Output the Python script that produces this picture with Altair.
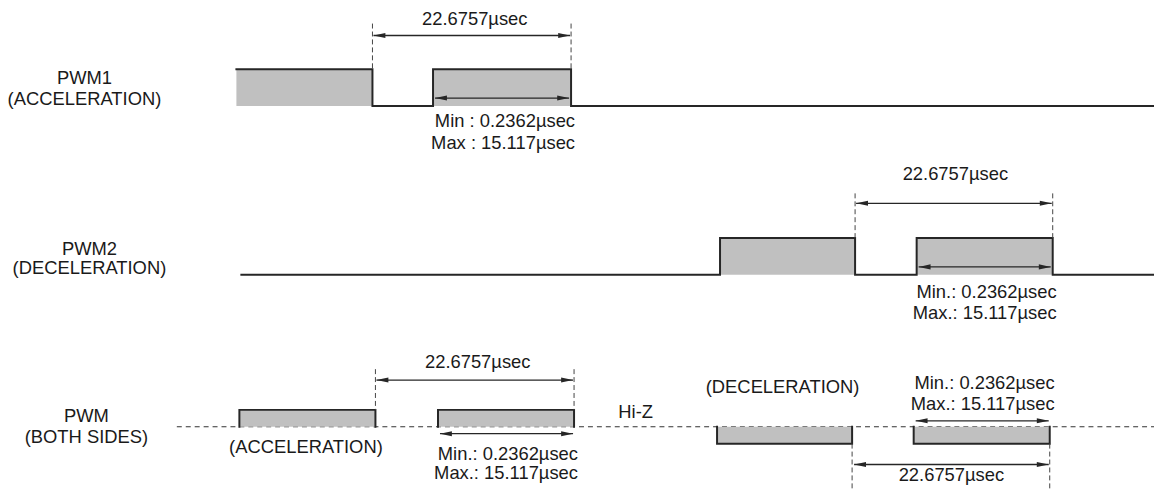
import altair as alt
import pandas as pd

# ---------------- diagram values (page pixel coordinates) ----------------
# Signal traces: each trace is a polyline
trace_names = ["pwm1", "pwm2", "both_acc1", "both_acc2", "both_dec1", "both_dec2"]
trace_x = [
    [238, 375, 375, 436, 436, 575, 575, 1162],
    [243, 725, 725, 861, 861, 923, 923, 1060, 1060, 1162],
    [241, 241, 378, 378],
    [441, 441, 578, 578],
    [722, 722, 858, 858],
    [920, 920, 1057, 1057],
]
trace_y = [
    [68, 68, 105, 105, 68, 68, 105, 105],
    [275, 275, 238, 238, 275, 275, 238, 238, 275, 275],
    [428, 411, 411, 428],
    [428, 411, 411, 428],
    [428, 445, 445, 428],
    [428, 445, 445, 428],
]

# Gray pulse fills
pulse_x1 = [238, 436, 725, 923, 241, 441, 722, 920]
pulse_x2 = [375, 575, 861, 1060, 378, 578, 858, 1057]
pulse_y1 = [68, 68, 238, 238, 411, 411, 428, 428]
pulse_y2 = [105, 105, 275, 275, 428, 428, 445, 445]

# Hi-Z level (dashed)
hiz_x = [178, 1162]
hiz_y = [428, 428]

# Dashed period guide lines
guide_x = [375, 575, 861, 1060, 378, 578, 858, 1057]
guide_y1 = [22, 22, 193, 193, 370, 370, 445, 445]
guide_y2 = [68, 68, 238, 238, 411, 411, 490, 490]

# Dimension arrows (double headed)
arrow_x1 = [376, 438, 862, 925, 379, 443, 922, 860]
arrow_x2 = [574, 573, 1059, 1058, 577, 577, 1056, 1056]
arrow_y = [34, 97, 203, 267, 381, 435, 422, 466]

# Centered texts
ctext = ["PWM1", "(ACCELERATION)", "PWM2", "(DECELERATION)", "PWM", "(BOTH SIDES)",
         "22.6757\u00b5sec", "22.6757\u00b5sec", "22.6757\u00b5sec", "22.6757\u00b5sec",
         "(ACCELERATION)", "(DECELERATION)", "Hi-Z"]
ctext_x = [85, 85, 90, 90, 87, 87, 478, 962, 481, 958, 308, 788, 640]
ctext_y = [83, 104, 255, 274, 423, 444, 23, 180, 369, 483, 454, 394, 419]

# Right-aligned texts
rtext = ["Min : 0.2362\u00b5sec", "Max : 15.117\u00b5sec",
         "Min.: 0.2362\u00b5sec", "Max.: 15.117\u00b5sec",
         "Min.: 0.2362\u00b5sec", "Max.: 15.117\u00b5sec",
         "Min.: 0.2362\u00b5sec", "Max.: 15.117\u00b5sec"]
rtext_x = [579, 579, 1064, 1064, 582, 582, 1062, 1062]
rtext_y = [126, 148, 298, 319, 461, 481, 390, 411]

# ---------------- tables ----------------
rows = []
for name, xs, ys in zip(trace_names, trace_x, trace_y):
    for i, (a, b) in enumerate(zip(xs, ys)):
        rows.append({"trace": name, "ord": i, "x": a, "y": b})
traces = pd.DataFrame(rows)
pulses = pd.DataFrame({"x": pulse_x1, "x2": pulse_x2, "y": pulse_y1, "y2": pulse_y2})
hiz = pd.DataFrame({"x": hiz_x, "y": hiz_y, "ord": [0, 1]})
guides = pd.DataFrame({"x": guide_x, "y": guide_y1, "y2": guide_y2})
arrows = pd.DataFrame({"x": arrow_x1, "x2": arrow_x2, "y": arrow_y})
heads = pd.DataFrame({
    "x": arrow_x1 + arrow_x2,
    "y": arrow_y + arrow_y,
    "ang": [180] * len(arrow_x1) + [0] * len(arrow_x2),
})
ctexts = pd.DataFrame({"t": ctext, "x": ctext_x, "y": ctext_y})
rtexts = pd.DataFrame({"t": rtext, "x": rtext_x, "y": rtext_y})

W, H = 1154, 482
xs = alt.Scale(domain=[8, 8 + W], nice=False, zero=False)
ys = alt.Scale(domain=[8 + H, 8], nice=False, zero=False)
X = lambda f="x": alt.X(f"{f}:Q", scale=xs, axis=None)
Y = lambda f="y": alt.Y(f"{f}:Q", scale=ys, axis=None)

INK = "#262626"
FONT = "Liberation Sans"
FS = 18.5

fill = alt.Chart(pulses).mark_rect(color="#c0c0c0", opacity=1).encode(
    x=X(), x2="x2:Q", y=Y(), y2="y2:Q")

hiz_line = alt.Chart(hiz).mark_line(color="#333333", strokeWidth=1.2, strokeDash=[5, 4]).encode(
    x=X(), y=Y(), order="ord:Q")

wave = alt.Chart(traces).mark_line(color=INK, strokeWidth=2, strokeJoin="miter", strokeCap="square").encode(
    x=X(), y=Y(), detail="trace:N", order="ord:Q")

guide = alt.Chart(guides).mark_rule(color="#444444", strokeWidth=1, strokeDash=[5, 3]).encode(
    x=X(), y=Y(), y2="y2:Q")

shaft = alt.Chart(arrows).mark_rule(color=INK, strokeWidth=1.3).encode(
    x=X(), x2="x2:Q", y=Y())

head = alt.Chart(heads).mark_point(
    shape="M0,0 L-2,-0.42 L-2,0.42 Z", filled=True, size=144, opacity=1, color=INK, strokeWidth=0
).encode(x=X(), y=Y(), angle=alt.Angle("ang:Q", scale=None))

ctx = alt.Chart(ctexts).mark_text(align="center", baseline="alphabetic", font=FONT, fontSize=FS, color="#1a1a1a").encode(
    x=X(), y=Y(), text="t:N")

rtx = alt.Chart(rtexts).mark_text(align="right", baseline="alphabetic", font=FONT, fontSize=FS, color="#1a1a1a").encode(
    x=X(), y=Y(), text="t:N")

chart = alt.layer(hiz_line, fill, wave, guide, shaft, head, ctx, rtx).properties(
    width=W, height=H, padding=0, autosize="none", background="white"
).configure_view(strokeWidth=0)

chart.save("out.html", embed_options={"renderer": "svg", "actions": False})
